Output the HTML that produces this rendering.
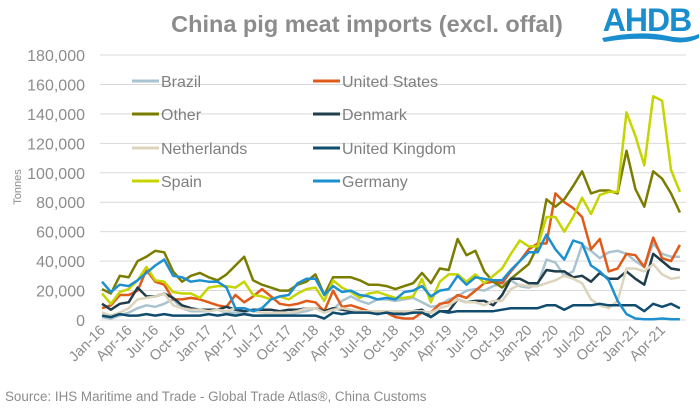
<!DOCTYPE html>
<html><head><meta charset="utf-8"><style>
body{margin:0;background:#fff;}
svg{display:block;font-family:"Liberation Sans",sans-serif;}
</style></head><body>
<svg id="s" width="700" height="408" viewBox="0 0 700 408" xmlns="http://www.w3.org/2000/svg">
<text x="367" y="32" text-anchor="middle" font-size="23.5" font-weight="bold" fill="#8c8c8c">China pig meat imports (excl. offal)</text>
<text x="647" y="31" text-anchor="middle" font-size="32" font-weight="bold" fill="#1a8dcf" letter-spacing="-1">AHDB</text>
<path d="M602 38 Q640 30 668 36 Q685 40 699 34 L699 38 Q685 45 668 41 Q640 36 604 42 Z" fill="#1a8dcf"/>
<g id="grid"></g>
<g id="lines" fill="none" stroke-width="2.5" stroke-linejoin="round"></g>
<g id="legend" font-size="16" fill="#7f7f7f"></g>
<text transform="translate(21,187) rotate(-90)" text-anchor="middle" font-size="11" fill="#8c8c8c">Tonnes</text>
<text x="5" y="401" font-size="13.4" fill="#8c8c8c">Source: IHS Maritime and Trade  - Global Trade  Atlas®, China Customs</text>
</svg>
<script>
var NS="http://www.w3.org/2000/svg";
function el(t,a,p,txt){var e=document.createElementNS(NS,t);for(var k in a)e.setAttribute(k,a[k]);if(txt)e.textContent=txt;document.getElementById(p).appendChild(e);return e;}
var y0=320,dy=29.44/20;
function Y(v){return y0-v*dy;}
function X(i){return 102+i*8.89;}
for(var g=0;g<=9;g++){var yy=Y(g*20);
 el('line',{x1:100,x2:686,y1:yy,y2:yy,stroke:'#d9d9d9','stroke-width':1},'grid');
 el('text',{x:85,y:yy+6,'text-anchor':'end','font-size':'16',fill:'#8c8c8c'},'grid',(g==0?'0':(g*20)+',000'));}
var labs=['Jan-16','Apr-16','Jul-16','Oct-16','Jan-17','Apr-17','Jul-17','Oct-17','Jan-18','Apr-18','Jul-18','Oct-18','Jan-19','Apr-19','Jul-19','Oct-19','Jan-20','Apr-20','Jul-20','Oct-20','Jan-21','Apr-21'];
labs.forEach(function(l,k){var x=X(k*3)+4,y=331;
 el('text',{x:x,y:y,'text-anchor':'end','font-size':'14.5',fill:'#8c8c8c',transform:'rotate(-45 '+x+' '+y+')'},'grid',l);});
var S={
Brazil:['#a9c3d0',[2,1,3,5,8,10,9,11,14,8,6,6,6,7,5,5,5,3,3,4,4,4,5,6,8,5,7,13,16,13,11,14,14,13,14,15,12,9,10,14,16,20,21,20,23,25,27,23,22,24,41,39,30,33,51,47,42,46,47,45,40,36,52,45,43,43]],
US:['#e05a1a',[8,10,17,17,20,34,26,24,14,14,15,14,12,10,9,17,12,16,21,16,11,10,11,13,12,6,20,9,10,8,6,5,5,2,1,1,5,5,11,12,17,15,20,25,26,25,33,40,48,52,52,86,80,76,70,48,55,33,35,45,44,36,56,42,40,51]],
Other:['#7b7d00',[21,18,30,29,40,43,47,46,33,26,30,32,29,27,31,37,43,27,24,22,20,20,24,26,31,17,29,29,29,27,24,24,23,21,23,25,32,25,35,34,55,44,47,33,26,22,28,33,38,50,82,77,82,91,101,86,88,88,86,115,89,77,101,96,86,73]],
Denmark:['#1f3d4a',[11,7,11,12,22,16,16,18,15,10,8,7,7,7,9,7,6,7,7,7,6,7,7,8,8,6,8,7,6,6,5,5,5,5,4,6,7,2,6,6,14,12,13,13,10,17,28,28,25,25,34,33,33,29,30,26,32,28,28,33,28,24,45,40,35,34]],
Netherlands:['#ddd4bd',[5,3,5,8,14,15,16,18,10,8,7,7,6,7,6,8,8,6,5,5,5,5,6,8,8,5,7,8,7,6,6,6,6,6,6,6,6,5,8,10,14,12,12,10,13,13,21,24,23,23,25,27,30,28,25,14,10,8,13,35,35,33,38,31,28,29]],
UK:['#0f4c6e',[3,2,4,3,3,4,3,4,3,3,3,3,4,3,4,3,4,3,3,3,3,3,3,3,3,1,5,4,5,5,5,4,5,4,4,5,5,2,6,5,6,6,6,6,6,7,8,8,8,8,10,10,7,10,10,10,11,10,10,10,10,6,11,9,11,8]],
Spain:['#c6d400',[18,11,19,21,27,36,27,26,19,18,18,15,22,23,23,22,26,17,16,14,16,14,18,21,22,13,27,22,19,15,18,19,17,15,15,16,28,12,26,31,31,26,31,25,30,35,45,54,50,50,70,70,60,70,83,72,85,87,87,141,125,105,152,149,102,87]],
Germany:['#1e90d0',[26,19,24,23,27,32,37,41,30,29,26,27,26,26,22,8,8,6,8,14,16,17,25,28,28,17,23,19,20,17,16,14,15,14,19,20,23,16,20,21,30,24,29,28,27,27,34,40,46,46,58,48,41,54,52,37,33,27,13,4,1,0.5,0.5,1,0.5,0.5]]};
for(var n in S){var d=S[n][1].map(function(v,i){return (i?'L':'M')+X(i).toFixed(1)+' '+Y(v).toFixed(1);}).join(' ');
 el('path',{d:d,stroke:S[n][0]},'lines');}
var L=[['Brazil','#a9c3d0',132,81],['United States','#e05a1a',313,81],['Other','#7b7d00',132,114],['Denmark','#1f3d4a',313,114],['Netherlands','#ddd4bd',132,148],['United Kingdom','#0f4c6e',313,148],['Spain','#c6d400',132,181],['Germany','#1e90d0',313,181]];
L.forEach(function(l){el('line',{x1:l[2],x2:l[2]+27,y1:l[3],y2:l[3],stroke:l[1],'stroke-width':3},'legend');
 el('text',{x:l[2]+29,y:l[3]+6},'legend',l[0]);});
</script>
</body></html>
